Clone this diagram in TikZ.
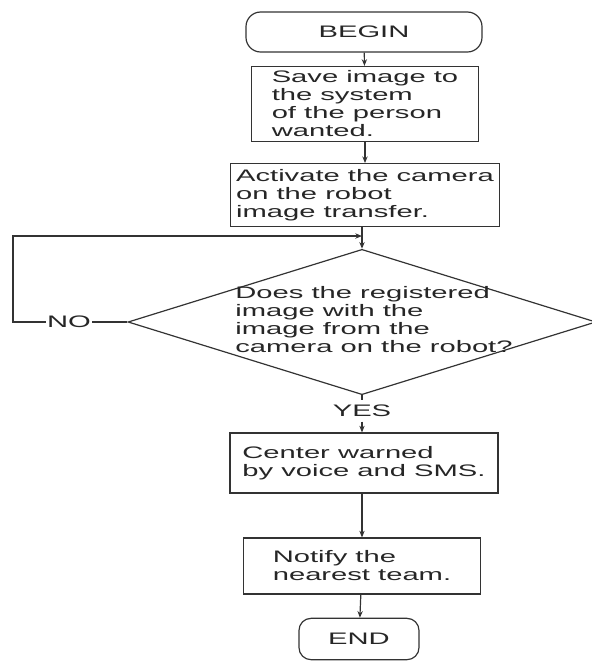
\documentclass[tikz,border=0pt]{standalone}
\usepackage{fontspec}
\setmainfont{Liberation Sans}[FakeStretch=1.75]
\usetikzlibrary{shapes.geometric,arrows.meta}
\begin{document}
\begin{tikzpicture}[x=0.75pt,y=-0.75pt,
  >={Stealth[length=5pt,width=4pt]},
  every node/.style={font=\fontsize{12.5}{13.5}\selectfont, text=black!85},
  terminal/.style={draw=black!80, line width=0.9pt, rounded corners=11pt},
  stepbox/.style={draw=black!80, line width=0.9pt, align=left},
  decision/.style={draw=black!80, line width=0.9pt, diamond, inner sep=0pt},
  conn/.style={draw=black!80, line width=0.9pt}]
\useasboundingbox (0,0) rectangle (592,662);

\node[terminal, minimum width=177pt, minimum height=30pt] (begin) at (364,32) {BEGIN};
\node[stepbox, minimum width=170pt, minimum height=56pt] (save) at (365,104) {Save image to\\the system\\of the person\\wanted.};
\node[stepbox, minimum width=202pt, minimum height=47pt] (camera) at (365,195) {Activate the camera\\on the robot\\image transfer.};
\node[decision, minimum width=351pt, minimum height=109pt] (match) at (362,322) {\makebox[0pt]{\hspace*{18pt}\begin{tabular}{@{}l@{}}Does the registered\\ image with the\\ image from the\\camera on the robot?\end{tabular}}};
\node (yes) at (362,411) {YES};
\node[stepbox, minimum width=201pt, minimum height=45pt] (warn) at (364,463) {Center warned\\by voice and SMS.};
\node[stepbox, minimum width=178pt, minimum height=42pt] (notify) at (362,566) {Notify the\\nearest team.};
\node[terminal, minimum width=90pt, minimum height=31pt, rounded corners=9pt] (end) at (359,639) {END};

\coordinate (join) at (362,236);
\coordinate (loop) at (13,322);

\draw[conn,->] (begin) -- (save);
\draw[conn,->] (save) -- (camera);
\draw[conn] (camera.south -| join) -- (join);
\draw[conn,->] (join) -- (match);
\draw[conn,->] (match.west) -- node[pos=0.51, fill=white, inner sep=1pt] (no) {NO} (loop) |- (join);
\draw[conn] (match.south) -- (yes);
\draw[conn,->] (yes) -- (warn.north -| yes);
\draw[conn,->] (warn.south -| notify) -- (notify);
\draw[conn,->] (notify) -- (end);
\end{tikzpicture}
\end{document}
